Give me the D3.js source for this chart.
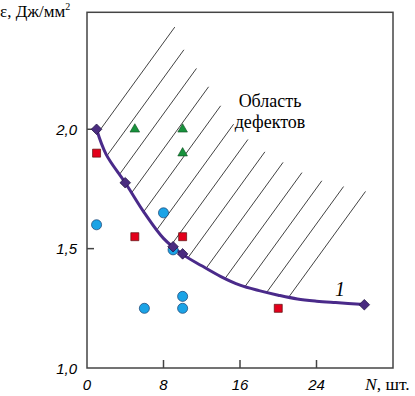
<!DOCTYPE html>
<html><head><meta charset="utf-8">
<script src="https://cdn.jsdelivr.net/npm/d3@7"></script>
<style>body{margin:0;background:#fff}svg{display:block}
.serif{font-family:'Liberation Serif','Times New Roman',serif}
.sans{font-family:'Liberation Sans',Arial,sans-serif}
</style>
</head><body>
<svg id="c" width="415" height="396"></svg>
<script>
// ---- data ----
const xTicks = [0, 8, 16, 24];
const yTicks = [1.0, 1.5, 2.0];
const yTickLabels = ["1,0", "1,5", "2,0"];
// curve 1 (fitted line)
const curveN   = [1, 2, 4, 6, 8, 10, 12, 14, 16, 18, 20, 22, 24, 26, 29];
const curveEps = [2.0, 1.895, 1.776, 1.65, 1.543, 1.476, 1.428, 1.383, 1.347, 1.324, 1.305, 1.289, 1.280, 1.274, 1.266];
// diamonds on curve 1
const diamondN   = [1, 4, 9, 10, 29];
const diamondEps = [2.0, 1.776, 1.508, 1.478, 1.265];
// blue circles
const circleN   = [1, 6, 8, 9, 10, 10];
const circleEps = [1.6, 1.25, 1.65, 1.495, 1.30, 1.25];
// red squares
const squareN   = [1, 5, 10, 20];
const squareEps = [1.9, 1.55, 1.55, 1.25];
// green triangles
const triN   = [5, 10, 10];
const triEps = [2.0, 2.0, 1.9];

const svg = d3.select("#c");
const x = d3.scaleLinear().domain([0, 32]).range([87, 393]);
const y = d3.scaleLinear().domain([1, 2.49]).range([368, 12.3]);

// curve path
const line = d3.line().x(d => x(d[0])).y(d => y(d[1])).curve(d3.curveCatmullRom.alpha(0.5));
const curvePts = curveN.map((n, i) => [n, curveEps[i]]);
const curvePath = svg.append("path").attr("d", line(curvePts))
  .attr("fill", "none").attr("stroke", "#4a2a8a").attr("stroke-width", 3);

// hatching: parallel lines of fixed length starting on the curve
const node = curvePath.node();
const total = node.getTotalLength();
const samples = d3.range(0, total + 0.5, 0.5).map(l => node.getPointAtLength(Math.min(l, total)));
const k = 1.38, c0 = 194, step = 25.85, nLines = 13;
const dir = [77, -106], dlen = Math.hypot(dir[0], dir[1]), L = 131;
const hatchG = svg.insert("g", "path");
for (let i = 0; i < nLines; i++) {
  const c = c0 + i * step;
  let best = samples[0], bd = Infinity;
  for (const p of samples) {
    const d = Math.abs(p.x + p.y / k - c);
    if (d < bd) { bd = d; best = p; }
  }
  hatchG.append("line")
    .attr("x1", best.x).attr("y1", best.y)
    .attr("x2", best.x + dir[0] / dlen * L).attr("y2", best.y + dir[1] / dlen * L)
    .attr("stroke", "#111").attr("stroke-width", 0.8);
}

// frame
svg.append("rect").attr("x", x(0)).attr("y", y(2.49))
  .attr("width", x(32) - x(0)).attr("height", y(1) - y(2.49))
  .attr("fill", "none").attr("stroke", "#444").attr("stroke-width", 1.5);

// ticks (inward)
svg.append("g").selectAll("line").data(xTicks.filter(t => t > 0)).join("line")
  .attr("x1", d => x(d)).attr("x2", d => x(d)).attr("y1", y(1)).attr("y2", y(1) - 8)
  .attr("stroke", "#444").attr("stroke-width", 1.5);
svg.append("g").selectAll("line").data(yTicks.filter(t => t > 1)).join("line")
  .attr("x1", x(0)).attr("x2", x(0) + 7).attr("y1", d => y(d)).attr("y2", d => y(d))
  .attr("stroke", "#444").attr("stroke-width", 1.5);

// tick labels
svg.append("g").selectAll("text").data(xTicks).join("text")
  .attr("class", "sans").attr("x", d => x(d)).attr("y", 390).attr("text-anchor", "middle")
  .attr("font-style", "italic").attr("font-size", 15).text(d => d);
svg.append("g").selectAll("text").data(yTicks).join("text")
  .attr("class", "sans").attr("x", 77).attr("y", d => y(d) + 5.5).attr("text-anchor", "end")
  .attr("font-style", "italic").attr("font-size", 15).text((d, i) => yTickLabels[i]);

// axis titles
const yt = svg.append("text").attr("class", "serif").attr("x", 0).attr("y", 17).attr("font-size", 17);
yt.append("tspan").text("ε, Дж/мм");
yt.append("tspan").attr("dy", -7).attr("font-size", 10).text("2");
const xt = svg.append("text").attr("class", "serif").attr("x", 365).attr("y", 390).attr("font-size", 17.5);
xt.append("tspan").attr("font-style", "italic").text("N");
xt.append("tspan").text(", шт.");

// region label
const rl = svg.append("text").attr("class", "serif").attr("font-size", 18).attr("text-anchor", "middle");
rl.append("tspan").attr("x", 270).attr("y", 107).text("Область");
rl.append("tspan").attr("x", 270).attr("y", 128).text("дефектов");

// curve label
svg.append("text").attr("class", "serif").attr("x", 340).attr("y", 296).attr("text-anchor", "middle")
  .attr("font-style", "italic").attr("font-size", 20).text("1");

// markers
const sym = (type, size) => d3.symbol().type(type).size(size)();
svg.append("g").selectAll("path").data(circleN.map((n, i) => [n, circleEps[i]])).join("path")
  .attr("transform", d => `translate(${x(d[0])},${y(d[1])})`)
  .attr("d", sym(d3.symbolCircle, 80))
  .attr("fill", "#1ba3e6").attr("stroke", "#1a3f6e").attr("stroke-width", 0.7);
svg.append("g").selectAll("path").data(squareN.map((n, i) => [n, squareEps[i]])).join("path")
  .attr("transform", d => `translate(${x(d[0])},${y(d[1])})`)
  .attr("d", sym(d3.symbolSquare, 64))
  .attr("fill", "#e3001b").attr("stroke", "#5a1010").attr("stroke-width", 0.7);
svg.append("g").selectAll("path").data(triN.map((n, i) => [n, triEps[i]])).join("path")
  .attr("transform", d => `translate(${x(d[0])},${y(d[1])})`)
  .attr("d", sym(d3.symbolTriangle, 40))
  .attr("fill", "#17923c").attr("stroke", "#0d4a1e").attr("stroke-width", 0.6);
svg.append("g").selectAll("path").data(diamondN.map((n, i) => [n, diamondEps[i]])).join("path")
  .attr("transform", d => `translate(${x(d[0])},${y(d[1])}) rotate(45)`)
  .attr("d", sym(d3.symbolSquare, 56))
  .attr("fill", "#4a2c80").attr("stroke", "#1e1040").attr("stroke-width", 0.7);
</script>
</body></html>
